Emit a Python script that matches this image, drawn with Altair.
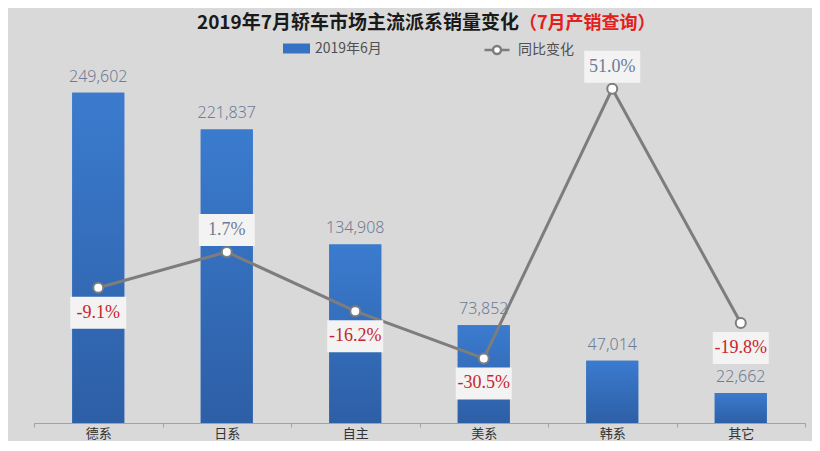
import altair as alt
import pandas as pd

categories = ["德系", "日系", "自主", "美系", "韩系", "其它"]
sales_june = [249602, 221837, 134908, 73852, 47014, 22662]
yoy_change = [-0.091, 0.017, -0.162, -0.305, 0.510, -0.198]
bar_series = "2019年6月"
line_series = "同比变化"
title_main = "2019年7月轿车市场主流派系销量变化"
title_note = "（7月产销查询）"

df = pd.DataFrame({"cat": categories, "sales": sales_june, "yoy": yoy_change})
title_df = pd.DataFrame({"main": [title_main], "note": [title_note]})

CJK = "Noto Sans CJK SC"
BG = "#d9d9d9"

x_enc = alt.X(
    "cat:N",
    sort=categories,
    scale=alt.Scale(paddingInner=0, paddingOuter=0),
    axis=alt.Axis(
        title=None, labelAngle=0, tickBand="extent",
        domainColor="#a3a3a3", tickColor="#a3a3a3", tickSize=4,
        labelFont=CJK, labelFontSize=13, labelColor="#333333", labelPadding=0,
    ),
)
y_bar = alt.Y("sales:Q", scale=alt.Scale(domain=[0, 300000], nice=False), axis=None)
y_line = alt.Y("yoy:Q", scale=alt.Scale(domain=[-0.5, 0.7], nice=False), axis=None)

base = alt.Chart(df)

bar_legend_bars = base.transform_calculate(
    series=alt.expr.toString(bar_series)
).mark_bar(size=52).encode(
    x=x_enc, y=y_bar,
    color=alt.Color(
        "series:N",
        scale=alt.Scale(range=["#3572c4"]),
        legend=alt.Legend(
            title=None, orient="none", legendX=249, legendY=9, padding=0,
            symbolType="M-1,-0.37H1V0.37H-1Z", symbolSize=729, symbolStrokeWidth=0,
            labelFont=CJK, labelFontSize=14, labelColor="#505050", labelOffset=5,
        ),
    ),
)

bars = base.mark_bar(
    size=52,
    fill=alt.Gradient(
        gradient="linear",
        stops=[alt.GradientStop(color="#3b7bce", offset=0),
               alt.GradientStop(color="#2d5fa6", offset=1)],
        x1=0, x2=0, y1=0, y2=1,
    ),
).encode(x=x_enc, y=y_bar)

bar_labels = base.mark_text(
    baseline="bottom", dy=-8, font="Noto Sans", fontSize=16, fontWeight=300, color="#6e7c95"
).encode(x=x_enc, y=y_bar, text=alt.Text("sales:Q", format=",d"))

line = base.transform_calculate(
    series=alt.expr.toString(line_series)
).mark_line(strokeWidth=3).encode(
    x=x_enc, y=y_line,
    stroke=alt.Stroke(
        "series:N",
        scale=alt.Scale(range=["#7d7d7d"]),
        legend=alt.Legend(
            title=None, orient="none", legendX=449, legendY=10, padding=0,
            symbolType="M-1,0H-0.32M0.32,0H1M-0.32,0A0.32,0.32,0,1,1,0.32,0A0.32,0.32,0,1,1,-0.32,0Z",
            symbolSize=625, symbolStrokeWidth=2.5, symbolFillColor="white",
            labelFont=CJK, labelFontSize=14, labelColor="#505050", labelOffset=7,
        ),
    ),
)

points = base.mark_point(
    filled=True, fill="white", stroke="#7d7d7d", strokeWidth=2, size=100, opacity=1
).encode(x=x_enc, y=y_line)

box_shape = "M-1.75,-1H1.75V1H-1.75Z"
labeled = base.transform_calculate(
    pct_label="replace(format(datum.yoy, '.1%'), '\u2212', '-')"
)
neg = labeled.transform_filter("datum.yoy < 0")
pos = labeled.transform_filter("datum.yoy >= 0")

neg_box = neg.mark_point(
    shape=box_shape, size=1024, filled=True, fill="#f3f3f3", strokeWidth=0, opacity=1, yOffset=25
).encode(x=x_enc, y=y_line)
pos_box = pos.mark_point(
    shape=box_shape, size=1024, filled=True, fill="#f3f3f3", strokeWidth=0, opacity=1, yOffset=-22
).encode(x=x_enc, y=y_line)

neg_text = neg.mark_text(
    dy=25, baseline="middle", font="Liberation Serif", fontSize=18, color="#c6262b"
).encode(x=x_enc, y=y_line, text="pct_label:N")
pos_text = pos.mark_text(
    dy=-22, baseline="middle", font="Liberation Serif", fontSize=18, color="#6e7c95"
).encode(x=x_enc, y=y_line, text="pct_label:N")

t_main = alt.Chart(title_df).mark_text(
    align="right", baseline="alphabetic", font=CJK, fontSize=19, fontWeight="bold", color="#1a1a1a"
).encode(x=alt.value(485), y=alt.value(3), text="main:N")
t_note = alt.Chart(title_df).mark_text(
    align="left", baseline="alphabetic", font=CJK, fontSize=18, fontWeight="bold", color="#e3201b"
).encode(x=alt.value(485), y=alt.value(3), text="note:N")

chart = alt.layer(
    bar_legend_bars, bars, bar_labels, line, points,
    neg_box, pos_box, neg_text, pos_text, t_main, t_note,
).resolve_scale(
    y="independent", color="independent", stroke="independent"
).properties(
    width=771, height=397,
    autosize=alt.AutoSizeParams(type="none"),
    padding={"left": 26, "top": 18, "right": 7, "bottom": 18},
    background=BG,
).configure_view(stroke=None)

chart.save("out.html", embed_options={"renderer": "svg", "actions": False})
